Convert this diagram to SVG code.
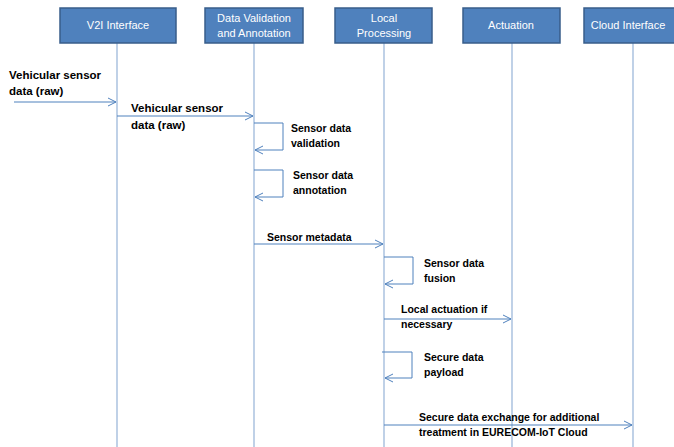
<svg xmlns="http://www.w3.org/2000/svg" width="674" height="447" viewBox="0 0 674 447">
<style>
.box{fill:#4f81bd;stroke:#385d8a;stroke-width:1.5}
.bt{font-family:"Liberation Sans",Arial,sans-serif;font-size:11px;fill:#fff;text-anchor:middle}
.life{stroke:#95b3d7;stroke-width:1.2;fill:none}
.msg{stroke:#4f81bd;stroke-width:1;fill:none}
.lb{font-family:"Liberation Sans",Arial,sans-serif;font-size:10.5px;font-weight:bold;fill:#000}
.lg{font-size:11.5px}
</style>
<defs>
<marker id="ah" markerWidth="10" markerHeight="10" refX="9" refY="5" orient="auto" markerUnits="userSpaceOnUse">
<path d="M1,1 L9,5 L1,9" fill="none" stroke="#4f81bd" stroke-width="1"/>
</marker>
</defs>
<rect width="674" height="447" fill="#fff"/>
<g id="connectors">
<line class="life" x1="117" y1="43" x2="117" y2="447"/>
<line class="life" x1="254" y1="43" x2="254" y2="447"/>
<line class="life" x1="384" y1="43" x2="384" y2="447"/>
<line class="life" x1="512" y1="43" x2="512" y2="447"/>
<line class="life" x1="633" y1="43" x2="633" y2="447"/>
<line class="msg" x1="14" y1="102" x2="116" y2="102" marker-end="url(#ah)"/>
<line class="msg" x1="117" y1="116" x2="253" y2="116" marker-end="url(#ah)"/>
<polyline class="msg" points="254,123 283,123 283,150 255,150" marker-end="url(#ah)"/>
<polyline class="msg" points="254,170 283,170 283,197 255,197" marker-end="url(#ah)"/>
<line class="msg" x1="254" y1="244" x2="383" y2="244" marker-end="url(#ah)"/>
<polyline class="msg" points="384,257 413,257 413,284 385,284" marker-end="url(#ah)"/>
<line class="msg" x1="384" y1="319" x2="511" y2="319" marker-end="url(#ah)"/>
<polyline class="msg" points="382,352 412,352 412,378 385,378" marker-end="url(#ah)"/>
<line class="msg" x1="384" y1="425" x2="632" y2="425" marker-end="url(#ah)"/>
</g>
<g id="v2i"><rect class="box" x="60" y="8" width="116" height="35"/><text class="bt" x="118" y="29">V2I Interface</text></g>
<g id="dva"><rect class="box" x="205" y="8" width="98" height="35"/><text class="bt" x="254" y="22">Data Validation</text><text class="bt" x="254" y="37">and Annotation</text></g>
<g id="lp"><rect class="box" x="335" y="8" width="97" height="35"/><text class="bt" x="384" y="22">Local</text><text class="bt" x="384" y="37">Processing</text></g>
<g id="act"><rect class="box" x="463" y="8" width="97" height="35"/><text class="bt" x="511" y="29">Actuation</text></g>
<g id="cloud"><rect class="box" x="584" y="8" width="95" height="35"/><text class="bt" x="628" y="29">Cloud Interface</text></g>
<g id="labels">
<text class="lb lg" x="9" y="79">Vehicular sensor</text><text class="lb lg" x="9" y="95">data (raw)</text>
<text class="lb lg" x="131" y="112">Vehicular sensor</text><text class="lb lg" x="131" y="129">data (raw)</text>
<text class="lb" x="291" y="132">Sensor data</text><text class="lb" x="291" y="147">validation</text>
<text class="lb" x="293" y="179">Sensor data</text><text class="lb" x="293" y="194">annotation</text>
<text class="lb" x="267" y="241">Sensor metadata</text>
<text class="lb" x="424" y="267">Sensor data</text><text class="lb" x="424" y="282">fusion</text>
<text class="lb" x="401" y="313">Local actuation if</text><text class="lb" x="401" y="328">necessary</text>
<text class="lb" x="424" y="361">Secure data</text><text class="lb" x="424" y="376">payload</text>
<text class="lb" x="419" y="421">Secure data exchange for additional</text><text class="lb" x="419" y="436">treatment in EURECOM-IoT Cloud</text>
</g>
</svg>
